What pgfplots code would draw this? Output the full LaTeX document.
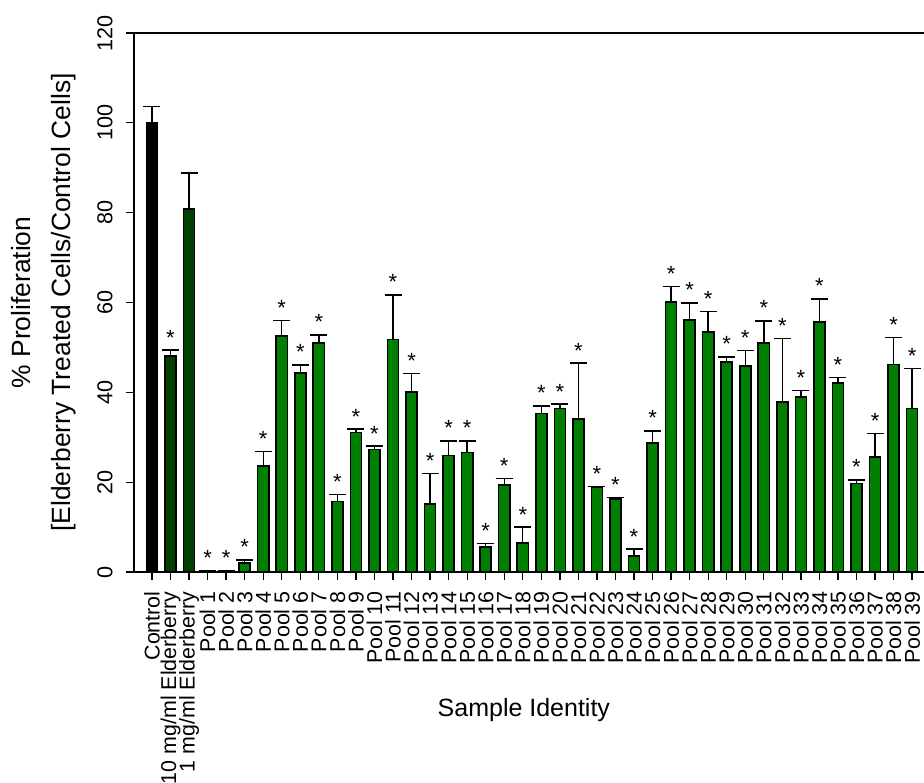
\documentclass[border=0pt]{standalone}
\usepackage{pgfplots}
\pgfplotsset{compat=1.18}
\usepackage{pgfplotstable}
\usepackage{fontspec}
\setmainfont{Liberation Sans}

\definecolor{poolgreen}{RGB}{0,128,0}
\definecolor{elderdark}{RGB}{0,64,0}

% mean proliferation (% of control) and SEM
\pgfplotstableread{
x y e
0 100 3.7
}\controldata

\pgfplotstableread{
x y e s
1 48.1 1.3 1
2 80.8 8.0 0
}\elderdata

\pgfplotstableread{
x y e
3 0.2 0.1
4 0.2 0.1
5 2.0 0.7
6 23.6 3.2
7 52.5 3.5
8 44.3 1.8
9 51.0 1.8
10 15.7 1.6
11 31.1 0.7
12 27.3 0.75
13 51.8 9.9
14 40.1 4.1
15 15.1 6.8
16 25.9 3.3
17 26.6 2.6
18 5.6 0.7
19 19.4 1.4
20 6.5 3.5
21 35.3 1.7
22 36.4 1.0
23 34.0 12.5
24 18.8 0.2
25 16.3 0.3
26 3.6 1.5
27 28.7 2.7
28 60.1 3.4
29 56.1 3.8
30 53.4 4.6
31 46.7 1.2
32 45.8 3.5
33 51.05 4.85
34 37.9 14.05
35 39.0 1.4
36 55.6 5.2
37 42.1 1.2
38 19.7 0.8
39 25.6 5.2
40 46.2 6.0
41 36.4 8.9
}\pooldata

\pgfplotsset{
  errstyle/.style={
    error bars/.cd, y dir=plus, y explicit,
    error bar style={line width=0.7pt, black},
    error mark options={rotate=90, line width=0.7pt, black, mark size=4.25pt}
  },
  barstyle/.style={ybar, bar width=0.6, bar shift=0pt, draw=black, line width=0.8pt},
  starstyle/.style={draw=none, mark=none, nodes near coords={*},
    every node near coord/.style={anchor=base, yshift=2.5pt, inner sep=0pt,
      font=\fontsize{11}{12}\selectfont}}
}

\begin{document}
\begin{tikzpicture}
\begin{axis}[
  scale only axis, width=395pt, height=269.5pt,
  xmin=-0.97, xmax=41.64, ymin=0, ymax=120,
  axis lines=left, axis line style={-, line width=0.65pt},
  tick style={line width=0.65pt, black},
  tick align=outside, major tick length=4pt,
  xtick={0,...,41},
  xticklabels={Control, 10 mg/ml Elderberry, 1 mg/ml Elderberry,
    Pool 1, Pool 2, Pool 3, Pool 4, Pool 5, Pool 6, Pool 7, Pool 8, Pool 9, Pool 10,
    Pool 11, Pool 12, Pool 13, Pool 14, Pool 15, Pool 16, Pool 17, Pool 18, Pool 19, Pool 20,
    Pool 21, Pool 22, Pool 23, Pool 24, Pool 25, Pool 26, Pool 27, Pool 28, Pool 29, Pool 30,
    Pool 31, Pool 32, Pool 33, Pool 34, Pool 35, Pool 36, Pool 37, Pool 38, Pool 39},
  ytick={0,20,...,120},
  /pgf/number format/assume math mode=true,
  x tick label style={rotate=90, anchor=east, inner sep=0pt, font=\fontsize{10.7}{12}\selectfont},
  y tick label style={rotate=90, anchor=south, inner sep=0pt, font=\fontsize{10.8}{12}\selectfont},
  xticklabel shift=5.5pt, yticklabel shift=6.5pt,
  xlabel={Sample Identity},
  xlabel style={at={(axis description cs:0.4935,-0.269)}, anchor=base, font=\fontsize{12.5}{15}\selectfont},
  ylabel={\% Proliferation\\[4.4pt]{[}Elderberry Treated Cells/Control Cells{]}},
  ylabel style={at={(axis description cs:-0.114,0.5)}, anchor=center, align=center, font=\fontsize{13.2}{15.8}\selectfont},
  clip=false,
]
\addplot[barstyle, fill=black, errstyle] table[x=x, y=y, y error=e]{\controldata};
\addplot[barstyle, fill=elderdark, errstyle] table[x=x, y=y, y error=e]{\elderdata};
\addplot[barstyle, fill=poolgreen, errstyle] table[x=x, y=y, y error=e]{\pooldata};

% significance markers above the error bars
\addplot[starstyle, restrict expr to domain={\thisrow{s}}{0.5:1.5}]
  table[x=x, y expr=\thisrow{y}+\thisrow{e}]{\elderdata};
\addplot[starstyle] table[x=x, y expr=\thisrow{y}+\thisrow{e}]{\pooldata};

\draw[line width=0.65pt] (rel axis cs:0,1) -- (rel axis cs:1,1);
\coordinate (bl) at (rel axis cs:0,0);
\coordinate (tr) at (rel axis cs:1,1);
\end{axis}
\pgfresetboundingbox
\path[use as bounding box] ([xshift=-67pt,yshift=-105.5pt]bl) rectangle ([yshift=16.5pt]tr);
\end{tikzpicture}
\end{document}
